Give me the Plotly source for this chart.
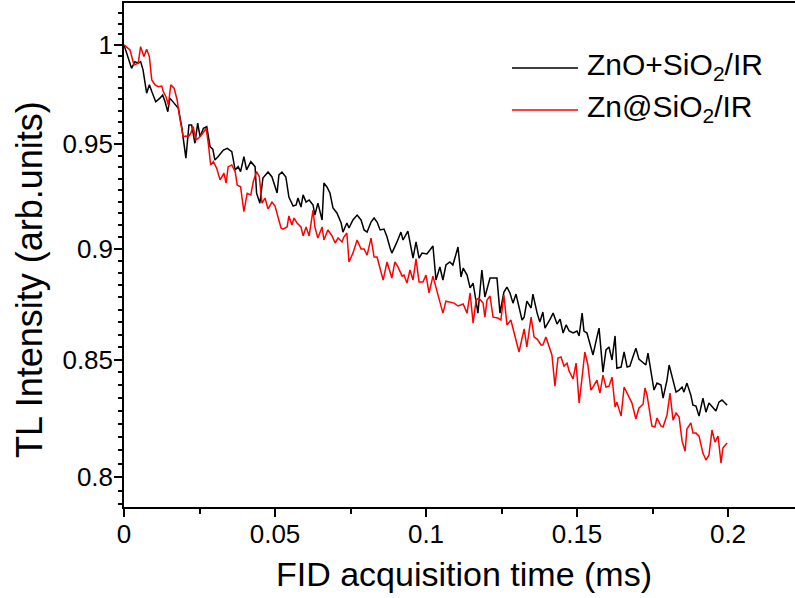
import plotly.graph_objects as go

# ---- data ----
name_black = "ZnO+SiO<sub>2</sub>/IR"
name_red = "Zn@SiO<sub>2</sub>/IR"

t_black = [0, .0025, .0036, .0047, .0055, .0063, .0075, .0084, .0092, .0105, .0119, .0128, .0136, .0145, .0152,
           .0169, .0180, .0191, .0205, .0215, .0224, .0235, .0244, .0252, .0263, .0274, .0285, .0294, .0301, .0312,
           .0329, .0342, .0357, .0368, .0378, .0386, .0397, .0406, .0420, .0434, .0439, .0450, .0460, .0477, .0490,
           .0507, .0513, .0523, .0536, .0546, .0560, .0570, .0576, .0586, .0593, .0603, .0613, .0626, .0632, .0642,
           .0656, .0662, .0672, .0682, .0692, .0705, .0719, .0725, .0738, .0745, .0758, .0772, .0785, .0795, .0805,
           .0818, .0828, .0838, .0848, .0861, .0871, .0881, .0887, .0904, .0917, .0924, .0940, .0957, .0967, .0977,
           .0987, .1003, .1023, .1033, .1046, .1056, .1066, .1079, .1089, .1106, .1116, .1123, .1136, .1146, .1156,
           .1172, .1185, .1195, .1212, .1235, .1245, .1258, .1268, .1278, .1288, .1298, .1311, .1318, .1325, .1334,
           .1348, .1354, .1368, .1377, .1387, .1394, .1411, .1421, .1434, .1444, .1454, .1464, .1474, .1487, .1500,
           .1507, .1517, .1523, .1533, .1546, .1553, .1566, .1573, .1586, .1596, .1606, .1616, .1626, .1632, .1646,
           .1656, .1666, .1675, .1685, .1695, .1705, .1719, .1728, .1735, .1748, .1755, .1765, .1778, .1785, .1798,
           .1805, .1818, .1828, .1838, .1848, .1854, .1864, .1877, .1884, .1894, .1904, .1917, .1927, .1937, .1950,
           .1960, .1970, .1980, .1990, .1997]
v_black = [1.0, .9880, .9914, .9906, .9914, .9872, .9754, .9796, .9762, .9711, .9729, .9745, .9711, .9661, .9729,
           .9695, .9678, .9587, .9432, .9595, .9595, .9505, .9604, .9537, .9579, .9587, .9488, .9476, .9423, .9440,
           .9472, .9480, .9464, .9375, .9391, .9367, .9440, .9375, .9415, .9391, .9263, .9215, .9336, .9365, .9341,
           .9264, .9351, .9365, .9341, .9245, .9202, .9207, .9240, .9197, .9255, .9221, .9231, .9207, .9159, .9216,
           .9136, .9312, .9293, .9264, .9193, .9169, .9122, .9079, .9122, .9098, .9136, .9159, .9136, .9089, .9079,
           .9126, .9145, .9126, .9089, .9093, .9056, .9005, .8981, .9033, .9079, .9042, .9084, .8958, .9033, .8958,
           .8981, .8977, .9014, .8857, .8917, .8857, .8926, .8940, .8926, .9009, .8871, .8912, .8880, .8821, .8843,
           .8707, .8903, .8780, .8866, .8866, .8707, .8802, .8825, .8798, .8752, .8793, .8707, .8676, .8689, .8761,
           .8730, .8793, .8707, .8667, .8712, .8640, .8680, .8707, .8658, .8680, .8618, .8654, .8627, .8618, .8627,
           .8605, .8707, .8627, .8618, .8551, .8521, .8600, .8640, .8446, .8543, .8556, .8499, .8605, .8463, .8468,
           .8534, .8468, .8472, .8512, .8551, .8503, .8485, .8477, .8529, .8420, .8368, .8398, .8390, .8333, .8411,
           .8477, .8411, .8359, .8368, .8381, .8359, .8398, .8346, .8303, .8299, .8256, .8333, .8273, .8312, .8295,
           .8278, .8316, .8325, .8312, .8303]

t_red = [0, .0020, .0033, .0047, .0055, .0066, .0075, .0084, .0092, .0103, .0114, .0125, .0130, .0139, .0147,
         .0155, .0166, .0176, .0185, .0196, .0205, .0213, .0221, .0229, .0238, .0249, .0261, .0272, .0279, .0287,
         .0296, .0307, .0318, .0331, .0338, .0345, .0357, .0368, .0375, .0386, .0397, .0408, .0420, .0428, .0439,
         .0448, .0457, .0467, .0477, .0490, .0500, .0510, .0520, .0526, .0540, .0546, .0556, .0563, .0573, .0586,
         .0593, .0603, .0613, .0626, .0632, .0642, .0656, .0662, .0675, .0689, .0699, .0709, .0722, .0728, .0738,
         .0745, .0758, .0772, .0785, .0795, .0805, .0818, .0828, .0838, .0848, .0858, .0871, .0887, .0897, .0907,
         .0921, .0927, .0937, .0947, .0957, .0967, .0977, .0990, .1000, .1010, .1023, .1036, .1056, .1066, .1079,
         .1093, .1106, .1123, .1136, .1146, .1156, .1166, .1175, .1189, .1195, .1202, .1212, .1222, .1238, .1248,
         .1258, .1268, .1281, .1288, .1298, .1308, .1325, .1334, .1348, .1358, .1368, .1381, .1387, .1397, .1417,
         .1427, .1437, .1447, .1457, .1467, .1474, .1487, .1497, .1507, .1517, .1526, .1536, .1546, .1553, .1566,
         .1576, .1586, .1596, .1606, .1616, .1626, .1632, .1646, .1656, .1666, .1682, .1695, .1705, .1719, .1725,
         .1732, .1748, .1758, .1765, .1778, .1785, .1798, .1808, .1818, .1828, .1838, .1848, .1858, .1864, .1877,
         .1884, .1894, .1904, .1917, .1927, .1937, .1947, .1957, .1967, .1977, .1983, .1997]
v_red = [1.0, .9974, .9897, .9906, .9991, .9940, .9978, .9940, .9821, .9796, .9787, .9790, .9762, .9736, .9695,
         .9796, .9779, .9720, .9628, .9537, .9541, .9537, .9554, .9587, .9521, .9534, .9554, .9579, .9505, .9399,
         .9415, .9383, .9327, .9359, .9311, .9391, .9399, .9367, .9302, .9294, .9175, .9263, .9255, .9318, .9367,
         .9342, .9216, .9240, .9188, .9221, .9202, .9145, .9098, .9093, .9103, .9155, .9112, .9145, .9122, .9103,
         .9061, .9103, .9061, .9183, .9103, .9051, .9103, .9042, .9089, .9061, .9028, .9051, .9033, .9056, .9075,
         .8940, .8981, .9042, .9000, .9000, .8972, .9051, .8963, .8963, .8912, .8857, .8940, .8866, .8940, .8917,
         .8875, .8880, .8843, .8903, .8857, .8954, .8848, .8848, .8880, .8798, .8875, .8807, .8707, .8761, .8757,
         .8752, .8739, .8748, .8707, .8798, .8662, .8766, .8775, .8752, .8689, .8766, .8784, .8689, .8685, .8676,
         .8789, .8654, .8676, .8636, .8587, .8534, .8636, .8556, .8689, .8600, .8591, .8565, .8565, .8600, .8521,
         .8385, .8507, .8512, .8472, .8485, .8450, .8416, .8485, .8312, .8424, .8534, .8477, .8368, .8381, .8411,
         .8355, .8433, .8381, .8385, .8424, .8295, .8316, .8256, .8381, .8355, .8312, .8244, .8290, .8308, .8377,
         .8346, .8214, .8210, .8248, .8214, .8210, .8261, .8355, .8239, .8269, .8252, .8150, .8108, .8201, .8227,
         .8184, .8184, .8171, .8100, .8071, .8092, .8197, .8146, .8171, .8058, .8121, .8142]

x_tickvals = [0, 0.05, 0.1, 0.15, 0.2]
x_ticktext = ["0", "0.05", "0.1", "0.15", "0.2"]
y_tickvals = [0.8, 0.85, 0.9, 0.95, 1.0]
y_ticktext = ["0.8", "0.85", "0.9", "0.95", "1"]

# ---- figure ----
W, H = 795, 598
L, R, T, B = 124, 0, 3, 91
pw, ph = W - L - R, H - T - B

fig = go.Figure()
fig.add_trace(go.Scatter(x=t_black, y=v_black, mode="lines", name=name_black,
                         line=dict(color="black", width=1.5), showlegend=False))
fig.add_trace(go.Scatter(x=t_red, y=v_red, mode="lines", name=name_red,
                         line=dict(color="#ff0000", width=1.5), showlegend=False))

y_minor = [0.8 + k * 0.05 / 9 for k in range(-3, 42)]
x_minor = [0.025 + k * 0.05 for k in range(5)]

font_family = "Liberation Sans, Arial, sans-serif"
fig.update_layout(
    width=W, height=H,
    margin=dict(l=L, r=R, t=T, b=B, pad=0),
    paper_bgcolor="white", plot_bgcolor="white",
    font=dict(family=font_family, color="black"),
    xaxis=dict(range=[0, pw / 3020.0], tickvals=x_tickvals, ticktext=x_ticktext,
               ticks="outside", ticklen=8, tickwidth=1.5, tickcolor="black",
               showline=True, linecolor="black", linewidth=1.5, mirror=True,
               showgrid=False, zeroline=False, tickfont=dict(size=26), ticklabelstandoff=-5,
               minor=dict(tickvals=x_minor, ticks="outside", ticklen=5, tickwidth=1.5, tickcolor="black",
                          showgrid=False)),
    yaxis=dict(type="log", range=[-0.1036, 0.0094], tickvals=y_tickvals, ticktext=y_ticktext,
               ticks="outside", ticklen=8, tickwidth=1.5, tickcolor="black",
               showline=True, linecolor="black", linewidth=1.5, mirror=False,
               showgrid=False, zeroline=False, tickfont=dict(size=26), ticklabelstandoff=-4,
               minor=dict(tickvals=y_minor, ticks="outside", ticklen=4, tickwidth=1.5, tickcolor="black",
                          showgrid=False)),
)

def px_x(p):
    return (p - L) / pw

def px_y(p):
    return 1 - (p - T) / ph

# axis titles
fig.add_annotation(text="FID acquisition time (ms)", xref="paper", yref="paper",
                   x=px_x(464), y=px_y(574), xanchor="center", yanchor="middle",
                   showarrow=False, font=dict(size=34))
fig.add_annotation(text="TL Intensity (arb.units)", xref="paper", yref="paper",
                   x=px_x(29), y=px_y(280), xanchor="center", yanchor="middle", textangle=-90,
                   showarrow=False, font=dict(size=36))

# legend (manual)
for yy, col, nm in [(68, "black", name_black), (110, "#ff0000", name_red)]:
    fig.add_shape(type="line", xref="paper", yref="paper", x0=px_x(512), x1=px_x(578),
                  y0=px_y(yy), y1=px_y(yy), line=dict(color=col, width=1.5))
    fig.add_annotation(text=nm, xref="paper", yref="paper", x=px_x(585), y=px_y(yy - 2),
                       xanchor="left", yanchor="middle", showarrow=False, font=dict(size=30))

fig.write_html("out.html", config={"displayModeBar": False},
               post_script="document.body.style.margin='0';document.body.style.overflow='hidden';")
